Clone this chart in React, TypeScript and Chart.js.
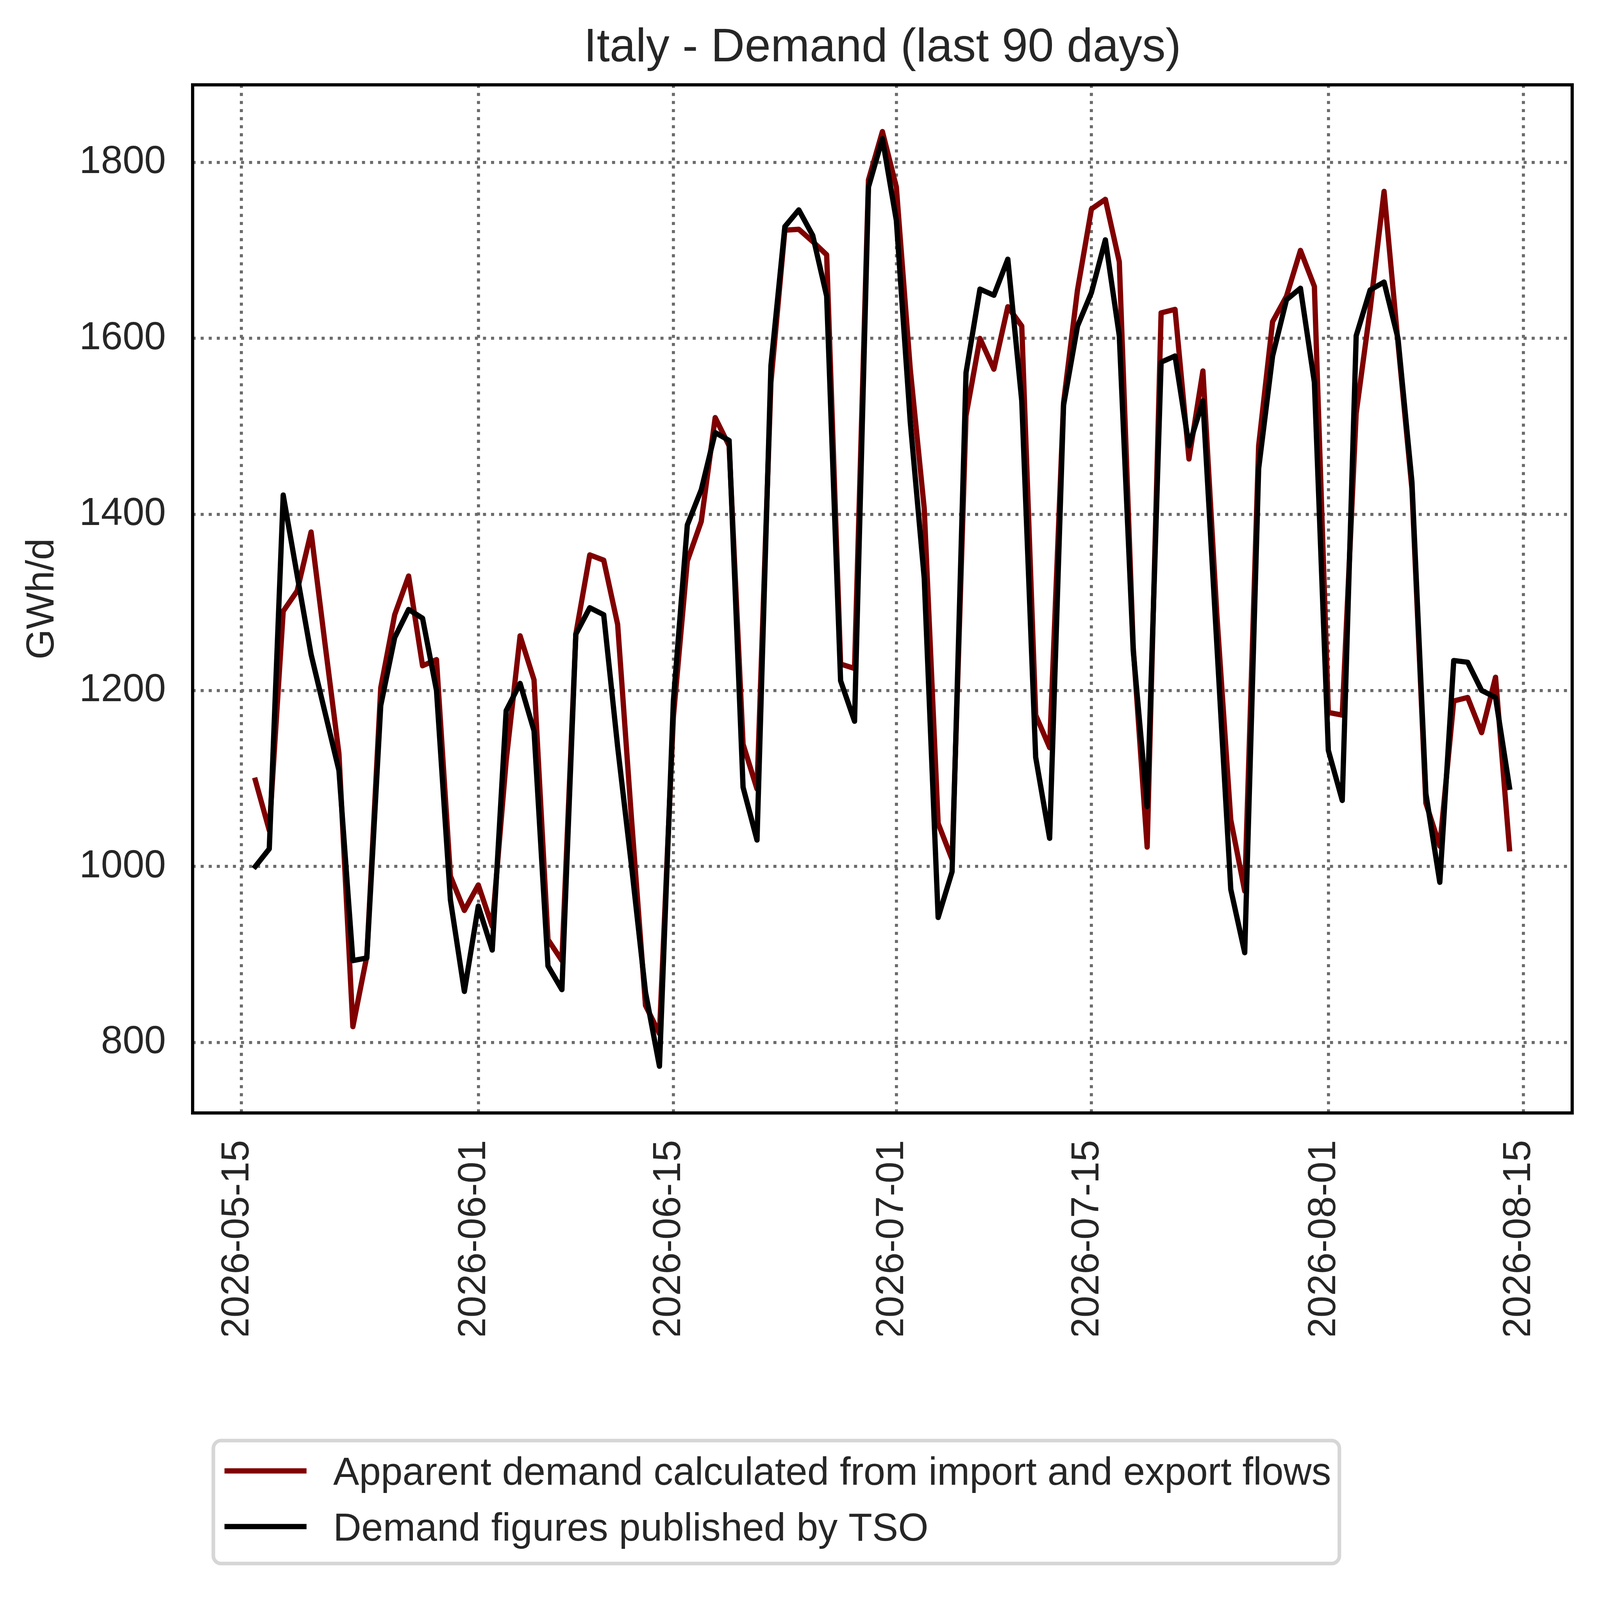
import { useEffect, useRef, useState } from "react";
import { Chart, registerables } from "chart.js";

Chart.register(...registerables);

// ---------- data ----------
const dates = [
  "2026-05-16", "2026-05-17", "2026-05-18", "2026-05-19", "2026-05-20", "2026-05-21", "2026-05-22",
  "2026-05-23", "2026-05-24", "2026-05-25", "2026-05-26", "2026-05-27", "2026-05-28", "2026-05-29",
  "2026-05-30", "2026-05-31", "2026-06-01", "2026-06-02", "2026-06-03", "2026-06-04", "2026-06-05",
  "2026-06-06", "2026-06-07", "2026-06-08", "2026-06-09", "2026-06-10", "2026-06-11", "2026-06-12",
  "2026-06-13", "2026-06-14", "2026-06-15", "2026-06-16", "2026-06-17", "2026-06-18", "2026-06-19",
  "2026-06-20", "2026-06-21", "2026-06-22", "2026-06-23", "2026-06-24", "2026-06-25", "2026-06-26",
  "2026-06-27", "2026-06-28", "2026-06-29", "2026-06-30", "2026-07-01", "2026-07-02", "2026-07-03",
  "2026-07-04", "2026-07-05", "2026-07-06", "2026-07-07", "2026-07-08", "2026-07-09", "2026-07-10",
  "2026-07-11", "2026-07-12", "2026-07-13", "2026-07-14", "2026-07-15", "2026-07-16", "2026-07-17",
  "2026-07-18", "2026-07-19", "2026-07-20", "2026-07-21", "2026-07-22", "2026-07-23", "2026-07-24",
  "2026-07-25", "2026-07-26", "2026-07-27", "2026-07-28", "2026-07-29", "2026-07-30", "2026-07-31",
  "2026-08-01", "2026-08-02", "2026-08-03", "2026-08-04", "2026-08-05", "2026-08-06", "2026-08-07",
  "2026-08-08", "2026-08-09", "2026-08-10", "2026-08-11", "2026-08-12", "2026-08-13", "2026-08-14",
];

const apparentDemand = [
  1098, 1041, 1290, 1313, 1380, 1253, 1128, 818, 898, 1203, 1286, 1330, 1228, 1235,
  989, 950, 979, 932, 1120, 1262, 1212, 917, 893, 1264, 1354, 1348, 1275, 1053,
  842, 810, 1170, 1347, 1392, 1510, 1478, 1139, 1088, 1550, 1723, 1724, 1710, 1695,
  1230, 1225, 1780, 1835, 1772, 1565, 1407, 1049, 1008, 1512, 1600, 1565, 1636, 1614,
  1172, 1135, 1527, 1655, 1747, 1758, 1687, 1249, 1022, 1629, 1633, 1463, 1563, 1286,
  1053, 972, 1478, 1619, 1648, 1700, 1659, 1175, 1172, 1515, 1633, 1767, 1595, 1429,
  1072, 1023, 1188, 1192, 1152, 1215, 1020,
];

const tsoDemand = [
  1000, 1020, 1422, 1331, 1241, 1175, 1109, 893, 896, 1183, 1260, 1292, 1282, 1200,
  962, 858, 955, 905, 1177, 1208, 1154, 887, 860, 1264, 1294, 1286, 1136, 1000,
  857, 773, 1188, 1388, 1428, 1493, 1484, 1090, 1030, 1569, 1727, 1746, 1717, 1648,
  1211, 1165, 1772, 1827, 1734, 1505, 1328, 942, 994, 1561, 1656, 1649, 1690, 1529,
  1124, 1032, 1524, 1614, 1652, 1712, 1603, 1245, 1068, 1573, 1580, 1478, 1529, 1252,
  974, 902, 1452, 1580, 1644, 1657, 1550, 1132, 1075, 1603, 1655, 1664, 1600, 1437,
  1083, 982, 1234, 1232, 1200, 1192, 1090,
];

const xTickDates = [
  "2026-05-15", "2026-06-01", "2026-06-15", "2026-07-01", "2026-07-15", "2026-08-01", "2026-08-15",
];
const yTicks = [800, 1000, 1200, 1400, 1600, 1800];

const seriesLabels = [
  "Apparent demand calculated from import and export flows",
  "Demand figures published by TSO",
];
const seriesColors = ["#800000", "#000000"];
const titleText = "Italy - Demand (last 90 days)";
const yAxisLabel = "GWh/d";

// ---------- helpers ----------
const DAY_MS = 86400000;
const toDay = (s: string) =>
  Date.UTC(+s.slice(0, 4), +s.slice(5, 7) - 1, +s.slice(8, 10)) / DAY_MS;
const dayToLabel = (d: number) => new Date(Math.round(d) * DAY_MS).toISOString().slice(0, 10);

const FONT = '"Liberation Sans", Arial, Helvetica, sans-serif';
const TEXT_COLOR = "#262626";
const GRID_COLOR = "#6b6b6b";

// reference design size (all layout constants below are in these units)
const REF_W = 5752;
const REF_H = 5721;

export default function App() {
  const canvasRef = useRef<HTMLCanvasElement | null>(null);
  const [size] = useState(() => {
    const w = typeof window !== "undefined" && window.innerWidth ? window.innerWidth : REF_W;
    const k = w / REF_W;
    return { k, w: Math.round(REF_W * k), h: Math.round(REF_H * k) };
  });

  useEffect(() => {
    const canvas = canvasRef.current;
    if (!canvas) return;
    let chart: Chart | null = null;
    let cancelled = false;
    const k = size.k;
    const S = (v: number) => v * k;

    const xs = dates.map(toDay);
    const xSpan = xs[xs.length - 1] - xs[0];
    const xMin = xs[0] - 0.05 * xSpan;
    const xMax = xs[xs.length - 1] + 0.05 * xSpan;
    const allY = [...apparentDemand, ...tsoDemand];
    const yLo = Math.min(...allY);
    const yHi = Math.max(...allY);
    const ySpan = yHi - yLo;
    const yMin = yLo - 0.05 * ySpan;
    const yMax = yHi + 0.05 * ySpan;

    const framePlugin = {
      id: "frameAndDecor",
      beforeDraw(c: any) {
        const ctx = c.ctx;
        ctx.save();
        ctx.fillStyle = "#ffffff";
        ctx.fillRect(0, 0, c.width, c.height);
        ctx.restore();
      },
      afterDatasetsDraw(c: any) {
        const { ctx, chartArea } = c;
        ctx.save();
        ctx.strokeStyle = "#000000";
        ctx.lineWidth = S(11.5);
        ctx.strokeRect(
          chartArea.left,
          chartArea.top,
          chartArea.right - chartArea.left,
          chartArea.bottom - chartArea.top
        );
        ctx.restore();
      },
      afterDraw(c: any) {
        const { ctx, chartArea } = c;
        ctx.save();
        // title
        ctx.fillStyle = TEXT_COLOR;
        ctx.font = `${S(168)}px ${FONT}`;
        ctx.textAlign = "center";
        ctx.textBaseline = "alphabetic";
        ctx.fillText(titleText, (chartArea.left + chartArea.right) / 2, chartArea.top - S(84));

        // legend
        const boxL = S(767), boxT = S(5179), boxR = S(4815), boxB = S(5621), r = S(28);
        ctx.beginPath();
        ctx.roundRect(boxL, boxT, boxR - boxL, boxB - boxT, r);
        ctx.fillStyle = "#ffffff";
        ctx.fill();
        ctx.lineWidth = S(13);
        ctx.strokeStyle = "#d6d6d6";
        ctx.stroke();

        const rowY = [S(5288), S(5488)];
        c.data.datasets.forEach((ds: any, i: number) => {
          const y = rowY[i];
          ctx.beginPath();
          ctx.moveTo(S(807), y);
          ctx.lineTo(S(1102), y);
          ctx.lineWidth = S(19);
          ctx.lineCap = "butt";
          ctx.strokeStyle = ds.borderColor;
          ctx.stroke();
          ctx.fillStyle = TEXT_COLOR;
          ctx.font = `${S(140)}px ${FONT}`;
          ctx.textAlign = "left";
          ctx.textBaseline = "alphabetic";
          ctx.fillText(ds.label, S(1198), y + S(50));
        });
        ctx.restore();
      },
    };

    const gridOpts = { color: GRID_COLOR, lineWidth: S(11), drawTicks: false };
    const borderOpts = { display: false, dash: [S(11), S(18)] };
    const tickFont = { family: FONT, size: S(140) };

    const build = () => {
      if (cancelled) return;
      chart = new Chart(canvas, {
        type: "line",
        data: {
          datasets: [
            {
              label: seriesLabels[0],
              data: xs.map((x, i) => ({ x, y: apparentDemand[i] })),
              borderColor: seriesColors[0],
              backgroundColor: seriesColors[0],
              borderWidth: S(19),
              pointRadius: 0,
              tension: 0,
              fill: false,
              borderJoinStyle: "round",
              borderCapStyle: "square",
              order: 2,
            },
            {
              label: seriesLabels[1],
              data: xs.map((x, i) => ({ x, y: tsoDemand[i] })),
              borderColor: seriesColors[1],
              backgroundColor: seriesColors[1],
              borderWidth: S(19),
              pointRadius: 0,
              tension: 0,
              fill: false,
              borderJoinStyle: "round",
              borderCapStyle: "square",
              order: 1,
            },
          ],
        },
        options: {
          animation: false,
          responsive: false,
          maintainAspectRatio: false,
          events: [],
          layout: { padding: { top: S(305), right: S(100), bottom: S(920), left: 0 } },
          plugins: {
            legend: { display: false },
            title: { display: false },
            tooltip: { enabled: false },
          },
          scales: {
            x: {
              type: "linear",
              min: xMin,
              max: xMax,
              afterBuildTicks: (s: any) => {
                s.ticks = xTickDates.map((d) => ({ value: toDay(d) }));
              },
              afterFit: (s: any) => {
                s.height = S(800);
              },
              ticks: {
                autoSkip: false,
                minRotation: 90,
                maxRotation: 90,
                padding: S(97),
                labelOffset: -S(14),
                color: TEXT_COLOR,
                font: tickFont,
                callback: (v: any) => dayToLabel(Number(v)),
              },
              grid: gridOpts,
              border: borderOpts,
            },
            y: {
              type: "linear",
              min: yMin,
              max: yMax,
              afterBuildTicks: (s: any) => {
                s.ticks = yTicks.map((v) => ({ value: v }));
              },
              afterFit: (s: any) => {
                s.width = S(692.5);
              },
              ticks: {
                padding: S(96),
                color: TEXT_COLOR,
                font: tickFont,
                callback: (v: any) => String(v),
              },
              title: {
                display: true,
                text: yAxisLabel,
                color: TEXT_COLOR,
                font: { family: FONT, size: S(140) },
                padding: { top: S(70), bottom: 0 },
              },
              grid: gridOpts,
              border: borderOpts,
            },
          },
        },
        plugins: [framePlugin],
      } as any);
    };

    const fontsApi = (document as any).fonts;
    if (fontsApi && fontsApi.load) {
      Promise.all([
        fontsApi.load(`${S(140)}px "Liberation Sans"`),
        fontsApi.load(`${S(168)}px "Liberation Sans"`),
      ])
        .catch(() => null)
        .then(build);
    } else {
      build();
    }

    return () => {
      cancelled = true;
      if (chart) chart.destroy();
    };
  }, [size]);

  return (
    <div
      style={{
        position: "absolute",
        left: 0,
        top: 0,
        width: size.w,
        height: size.h,
        background: "#ffffff",
        overflow: "hidden",
      }}
    >
      <canvas
        ref={canvasRef}
        width={size.w}
        height={size.h}
        style={{ display: "block", width: size.w, height: size.h }}
      />
    </div>
  );
}
